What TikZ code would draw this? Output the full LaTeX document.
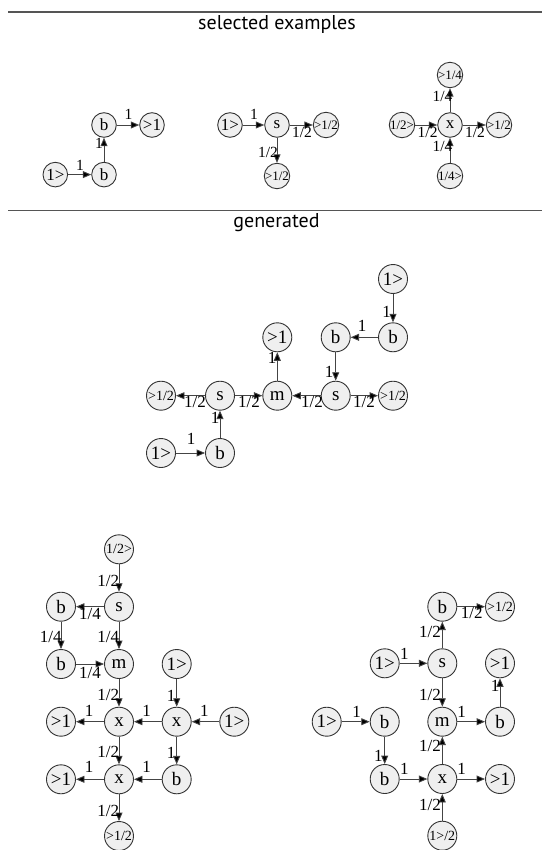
\documentclass[tikz,border=0pt]{standalone}
\usepackage{fontspec}
\setmainfont{Liberation Serif}
\newfontfamily\titlefont{PT Sans}
\usetikzlibrary{arrows.meta}
\definecolor{nodefill}{HTML}{EFEFEF}
\definecolor{edgecol}{HTML}{444444}
\definecolor{sepcol}{HTML}{555555}
\tikzset{
  vtx/.style={circle, draw=black!80, fill=nodefill, line width=0.9pt, minimum size=29pt, inner sep=0pt, font=\fontsize{19}{19}\selectfont},
  svtx/.style={vtx, font=\fontsize{14}{14}\selectfont},
  tvtx/.style={vtx, minimum size=24.6pt, font=\fontsize{17}{17}\selectfont},
  tsvtx/.style={tvtx, font=\fontsize{13}{13}\selectfont},
  arr/.style={draw=edgecol, line width=0.9pt, -{Triangle[length=8.5pt,width=7pt,fill=black]}},
  lab/.style={inner sep=0pt, font=\fontsize{17}{17}\selectfont},
  tlab/.style={lab, font=\fontsize{15.5}{15.5}\selectfont},
  sepline/.style={draw=sepcol, line width=1.2pt},
  ttl/.style={inner sep=0pt, anchor=base, font=\titlefont\fontsize{20}{20}\selectfont}
}
\begin{document}
\begin{tikzpicture}[x=1pt, y=-1pt]
\useasboundingbox (0,0) rectangle (542,850);
\draw[sepline] (8,12) -- (542,12);
\node[ttl] (t1) at (277,30) {selected examples};
\draw[sepline] (8,210.5) -- (542,210.5);
\node[ttl] (t2) at (276.5,228) {generated};

% example 1
\node[tvtx] (e1i) at (55.3,174.6) {1>};
\node[tvtx] (e1b) at (104,174.6) {b};
\node[tvtx] (e1c) at (104,125) {b};
\node[tvtx] (e1o) at (152,125) {>1};
\draw[arr] (e1i) -- (e1b); \node[tlab] (e1l1) at (80,165) {1};
\draw[arr] (e1b) -- (e1c); \node[tlab] (e1l2) at (99,143.5) {1};
\draw[arr] (e1c) -- (e1o); \node[tlab] (e1l3) at (128.6,114.8) {1};

% example 2
\node[tvtx] (e2i) at (230,125) {1>};
\node[tvtx] (e2s) at (277,125) {s};
\node[tsvtx] (e2o) at (326,125) {>1/2};
\node[tsvtx] (e2d) at (277,176) {>1/2};
\draw[arr] (e2i) -- (e2s); \node[tlab] (e2l1) at (254,114) {1};
\draw[arr] (e2s) -- (e2o); \node[tlab] (e2l2) at (302,132) {1/2};
\draw[arr] (e2s) -- (e2d); \node[tlab] (e2l3) at (268,152) {1/2};

% example 3
\node[tsvtx] (e3i) at (402,125) {1/2>};
\node[tvtx] (e3x) at (450,125) {x};
\node[tsvtx] (e3o) at (499,125) {>1/2};
\node[tsvtx] (e3u) at (450,75) {>1/4};
\node[tsvtx] (e3d) at (450,176) {1/4>};
\draw[arr] (e3i) -- (e3x); \node[tlab] (e3l1) at (427.6,132) {1/2};
\draw[arr] (e3x) -- (e3o); \node[tlab] (e3l2) at (475,132) {1/2};
\draw[arr] (e3x) -- (e3u); \node[tlab] (e3l3) at (442.5,96.8) {1/4};
\draw[arr] (e3d) -- (e3x); \node[tlab] (e3l4) at (442.5,146) {1/4};

% generated: middle
\node[vtx] (mA) at (393,279) {1>};
\node[vtx] (mB) at (393,337.3) {b};
\node[vtx] (mC) at (335.7,337.3) {b};
\node[vtx] (mD) at (277.3,337.3) {>1};
\node[svtx] (mH) at (161,395.7) {>1/2};
\node[vtx] (mE) at (220,395.7) {s};
\node[vtx] (mF) at (277.3,395.7) {m};
\node[vtx] (mG) at (335.7,395.7) {s};
\node[svtx] (mI) at (393,395.7) {>1/2};
\node[vtx] (mJ) at (161,453) {1>};
\node[vtx] (mK) at (220,453) {b};
\draw[arr] (mA) -- (mB); \node[lab] (ml1) at (386.7,312.3) {1};
\draw[arr] (mB) -- (mC); \node[lab] (ml2) at (362,326) {1};
\draw[arr] (mC) -- (mG); \node[lab] (ml3) at (329,372) {1};
\draw[arr] (mF) -- (mD); \node[lab] (ml4) at (272,358) {1};
\draw[arr] (mG) -- (mF); \node[lab] (ml5) at (312,402) {1/2};
\draw[arr] (mG) -- (mI); \node[lab] (ml6) at (364,402) {1/2};
\draw[arr] (mE) -- (mF); \node[lab] (ml7) at (249,402) {1/2};
\draw[arr] (mE) -- (mH); \node[lab] (ml8) at (195,402) {1/2};
\draw[arr] (mK) -- (mE); \node[lab] (ml9) at (215,418) {1};
\draw[arr] (mJ) -- (mK); \node[lab] (ml10) at (191,439) {1};

% generated: bottom left
\node[svtx] (lP) at (119,549.3) {1/2>};
\node[vtx] (lS) at (119,606.7) {s};
\node[vtx] (lB1) at (61,606.7) {b};
\node[vtx] (lB2) at (61,664) {b};
\node[vtx] (lM) at (119,664) {m};
\node[vtx] (lI1) at (176.7,664) {1>};
\node[vtx] (lO1) at (61,721.7) {>1};
\node[vtx] (lX1) at (119,721.7) {x};
\node[vtx] (lX2) at (176.7,721.7) {x};
\node[vtx] (lI2) at (234.3,721.7) {1>};
\node[vtx] (lO2) at (61,779.3) {>1};
\node[vtx] (lX3) at (119,779.3) {x};
\node[vtx] (lB3) at (176.7,779.3) {b};
\node[svtx] (lO3) at (119,836) {>1/2};
\draw[arr] (lP) -- (lS); \node[lab] (ll1) at (108.3,580.7) {1/2};
\draw[arr] (lS) -- (lB1); \node[lab] (ll2) at (90,614) {1/4};
\draw[arr] (lS) -- (lM); \node[lab] (ll3) at (108.3,637.3) {1/4};
\draw[arr] (lB1) -- (lB2); \node[lab] (ll4) at (50.7,637.3) {1/4};
\draw[arr] (lB2) -- (lM); \node[lab] (ll5) at (90,672.7) {1/4};
\draw[arr] (lM) -- (lX1); \node[lab] (ll6) at (108.3,695) {1/2};
\draw[arr] (lI1) -- (lX2); \node[lab] (ll7) at (171,695.7) {1};
\draw[arr] (lI2) -- (lX2); \node[lab] (ll8) at (204.3,710.7) {1};
\draw[arr] (lX2) -- (lX1); \node[lab] (ll9) at (146.7,710.7) {1};
\draw[arr] (lX1) -- (lO1); \node[lab] (ll10) at (89,710.7) {1};
\draw[arr] (lX2) -- (lB3); \node[lab] (ll11) at (171,752.7) {1};
\draw[arr] (lX1) -- (lX3); \node[lab] (ll12) at (108.3,751.7) {1/2};
\draw[arr] (lB3) -- (lX3); \node[lab] (ll13) at (146.7,767.3) {1};
\draw[arr] (lX3) -- (lO2); \node[lab] (ll14) at (89,767.3) {1};
\draw[arr] (lX3) -- (lO3); \node[lab] (ll15) at (108.3,810.7) {1/2};

% generated: bottom right
\node[vtx] (rB1) at (442.3,606.7) {b};
\node[svtx] (rO1) at (500,606.7) {>1/2};
\node[vtx] (rI1) at (384.7,663.3) {1>};
\node[vtx] (rS) at (442.3,663.3) {s};
\node[vtx] (rO2) at (500,663.3) {>1};
\node[vtx] (rI2) at (326.7,721.7) {1>};
\node[vtx] (rB2) at (384.7,721.7) {b};
\node[vtx] (rM) at (442.3,721.7) {m};
\node[vtx] (rB3) at (500,721.7) {b};
\node[vtx] (rB4) at (384.7,779) {b};
\node[vtx] (rX) at (442.3,779) {x};
\node[vtx] (rO3) at (500,779) {>1};
\node[svtx] (rP) at (442.3,835.7) {1>/2};
\draw[arr] (rS) -- (rB1); \node[lab] (rl1) at (430,631.7) {1/2};
\draw[arr] (rB1) -- (rO1); \node[lab] (rl2) at (471.7,613.3) {1/2};
\draw[arr] (rI1) -- (rS); \node[lab] (rl3) at (404.3,654) {1};
\draw[arr] (rS) -- (rM); \node[lab] (rl4) at (430,695) {1/2};
\draw[arr] (rM) -- (rB3); \node[lab] (rl5) at (461.7,711.7) {1};
\draw[arr] (rB3) -- (rO2); \node[lab] (rl6) at (495,686) {1};
\draw[arr] (rI2) -- (rB2); \node[lab] (rl7) at (356.7,711.7) {1};
\draw[arr] (rB2) -- (rB4); \node[lab] (rl8) at (378.3,755.7) {1};
\draw[arr] (rB4) -- (rX); \node[lab] (rl9) at (404.3,769) {1};
\draw[arr] (rX) -- (rO3); \node[lab] (rl10) at (461.7,769) {1};
\draw[arr] (rX) -- (rM); \node[lab] (rl11) at (430,745.7) {1/2};
\draw[arr] (rP) -- (rX); \node[lab] (rl12) at (430,805) {1/2};
\end{tikzpicture}
\end{document}
